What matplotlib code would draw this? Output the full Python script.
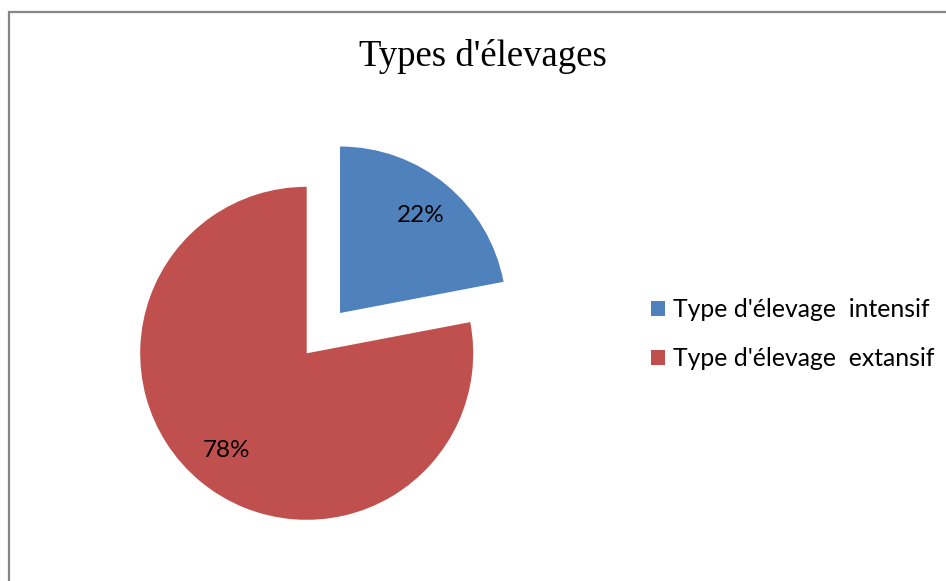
import matplotlib
matplotlib.use("Agg")
import matplotlib.pyplot as plt
from matplotlib.patches import Rectangle

title = "Types d'élevages"
labels = ["Type d'élevage  intensif", "Type d'élevage  extansif"]
shares = [22, 78]
colors = ["#4F81BD", "#C0504D"]

W, H = 946, 581
radius = 166.5
# pie explode is in data units, here pixels
explode = [0.314 * radius, 0.0]

fig = plt.figure(figsize=(W / 100, H / 100), dpi=100)
fig.patch.set_facecolor("white")

# chart frame (runs off the right and bottom edges)
fig.add_artist(Rectangle((9 / W, -0.05), 1.0, 1 - 12 / H + 0.05,
                         transform=fig.transFigure, fill=False,
                         edgecolor="#868686", linewidth=1.6))

# axes in pixel units, y pointing up
ax = fig.add_axes([0, 0, 1, 1])

wedges, _, autotexts = ax.pie(
    shares, colors=colors, explode=explode, startangle=90,
    counterclock=False, radius=radius, center=(306.7, H - 353.3),
    autopct="%d%%", pctdistance=0.76, frame=True,
    textprops=dict(family="Lato", fontsize=17.5, color="black"),
)
ax.set_xlim(0, W)
ax.set_ylim(0, H)
ax.set_aspect("equal")
ax.axis("off")

fig.text(483 / W, 1 - 56 / H, title, family="Liberation Serif",
         fontsize=26.5, ha="center", va="center")

fig.legend(wedges, labels, loc="center left",
           bbox_to_anchor=(651 / W, 1 - 334 / H), frameon=False,
           prop=dict(family="Lato", size=17.8),
           handlelength=0.58, handleheight=0.58, handletextpad=0.3,
           labelspacing=1.05, borderpad=0, borderaxespad=0)

fig.savefig("out.png", dpi=100)
